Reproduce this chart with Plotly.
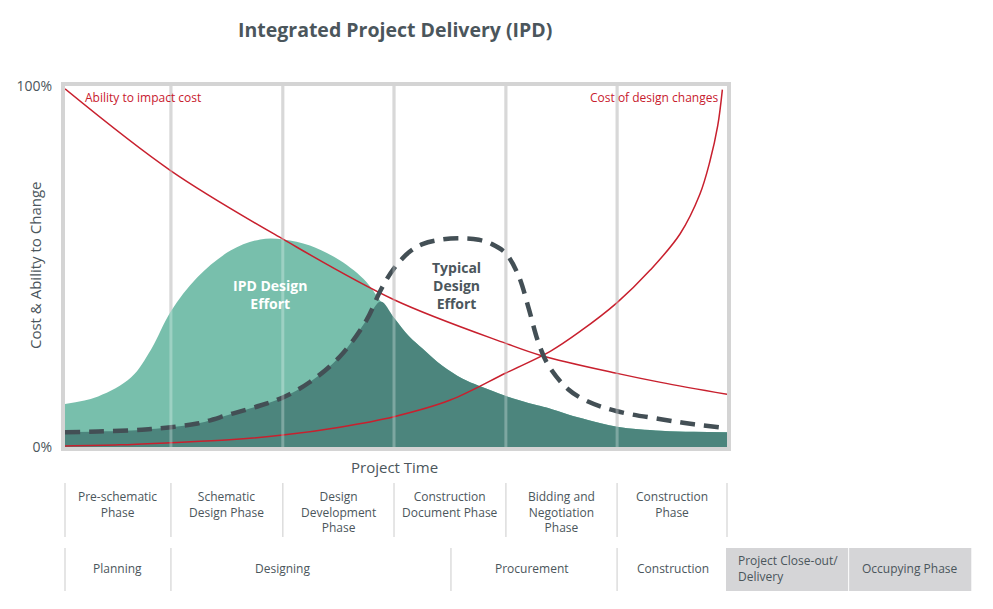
import plotly.graph_objects as go

# ---------------- data ----------------
# project time in % (0-100), effort / cost in % (0-100)
effort_x = [0, 5, 10, 13, 16, 20, 25, 29.5, 33, 37, 41.5, 45.5, 47.7, 49.7, 52, 54, 57, 60,
            62.5, 64.5, 66.6, 68.5, 70, 71.5, 73, 76, 79, 83.4, 90, 95, 100]
ipd_effort = [11.9, 14.0, 19.3, 27.0, 37.6, 47.0, 54.4, 57.5, 57.5, 55.8, 51.7, 45.8, 40.3,
              35.8, 30.6, 27.3, 22.5, 19.0, 17.0, 15.6, 14.1, 13.0, 12.2, 11.5, 10.8, 9.0,
              7.5, 5.6, 4.5, 4.2, 4.1]
typical_effort = [4.1, 4.3, 4.6, 5.0, 5.5, 6.5, 9.1, 11.5, 13.8, 18.0, 25.0, 35.0, 43.5,
                  49.5, 54.0, 56.2, 57.5, 57.8, 57.4, 56.2, 53.6, 47.5, 38.7, 29.0, 22.7,
                  16.0, 12.6, 9.9, 7.7, 6.3, 5.2]

ability_x = [0, 16, 33, 49.7, 66.6, 72, 83.4, 90, 100]
ability_to_impact = [99.2, 76.5, 57.5, 40.8, 28.7, 25.3, 20.4, 17.9, 14.6]

cost_x = [0, 8.3, 16, 24.9, 32.9, 41.5, 49.7, 58.2, 66.6, 73.3, 77.8, 83.4, 88.4, 92.9,
          95.9, 97.4, 98.6, 99.3]
cost_of_changes = [0.3, 0.6, 1.2, 2.0, 3.3, 5.5, 8.4, 13.0, 20.5, 26.5, 32.0, 40.0, 49.0,
                   59.0, 70.0, 79.0, 89.0, 99.0]

phase_bounds = [0, 16.0, 32.9, 49.7, 66.6, 83.4, 100]
phase_labels = ["Pre-schematic<br>Phase", "Schematic<br>Design Phase",
                "Design<br>Development<br>Phase", "Construction<br>Document Phase",
                "Bidding and<br>Negotiation<br>Phase", "Construction<br>Phase"]

stage_bounds = [0, 16.0, 58.3, 83.4]
stage_labels = ["Planning", "Designing", "Procurement", "Construction"]
stage_label_x = [8.0, 32.9, 70.5, 91.8]

extra_stage_labels = ["Project Close-out/<br>Delivery", "Occupying Phase"]
extra_stage_bounds = [99.85, 118.3, 118.45, 136.9]

# ---------------- style ----------------
TXT = "#4b565c"
RED = "#c8202e"
LIGHT = "#78bfac"
DARK = "#4c857d"
DASH = "#434f55"
GRID = "#c9c9c9"
FONT = "Open Sans"

# pixel helpers relative to the plot area (plot area: x 65..727, y 86..447 px)
def py(p):
    return (447 - p) / 361.0

def px(p):
    return (p - 65) / 662.0

dark_effort = [min(a, b) for a, b in zip(ipd_effort, typical_effort)]

fig = go.Figure()
fig.add_trace(go.Scatter(x=effort_x, y=ipd_effort, mode="lines", fill="tozeroy",
                         fillcolor=LIGHT, line=dict(width=0, color=LIGHT, shape="spline"),
                         hoverinfo="skip"))
fig.add_trace(go.Scatter(x=effort_x, y=dark_effort, mode="lines", fill="tozeroy",
                         fillcolor=DARK, line=dict(width=0, color=DARK, shape="spline"),
                         hoverinfo="skip"))
fig.add_trace(go.Scatter(x=ability_x, y=ability_to_impact, mode="lines",
                         line=dict(width=1.5, color=RED, shape="spline"), hoverinfo="skip"))
fig.add_trace(go.Scatter(x=cost_x, y=cost_of_changes, mode="lines",
                         line=dict(width=1.5, color=RED, shape="spline"), hoverinfo="skip"))
fig.add_trace(go.Scatter(x=effort_x, y=typical_effort, mode="lines",
                         line=dict(width=4.5, color=DASH, shape="spline", dash="15px,9px"),
                         hoverinfo="skip"))

shapes = []
for b in phase_bounds[1:-1]:
    shapes.append(dict(type="line", xref="x", yref="y", x0=b, x1=b, y0=0, y1=100,
                       line=dict(color=GRID, width=3), layer="below"))
    shapes.append(dict(type="line", xref="x", yref="y", x0=b, x1=b, y0=0, y1=100,
                       line=dict(color="rgba(255,255,255,0.28)", width=3), layer="above"))
for b in phase_bounds:
    shapes.append(dict(type="line", xref="paper", yref="paper", x0=b / 100, x1=b / 100,
                       y0=py(483), y1=py(537), line=dict(color="#dddddd", width=1.5)))
for b in stage_bounds:
    shapes.append(dict(type="line", xref="paper", yref="paper", x0=b / 100, x1=b / 100,
                       y0=py(548), y1=py(591), line=dict(color="#dddddd", width=1.5)))
for i in range(2):
    shapes.append(dict(type="rect", xref="paper", yref="paper",
                       x0=extra_stage_bounds[2 * i] / 100, x1=extra_stage_bounds[2 * i + 1] / 100,
                       y0=py(548), y1=py(591), fillcolor="#d5d5d7", line=dict(width=0)))

def ann(text, x, y, size=12, color=TXT, xa="center", ya="middle", **kw):
    d = dict(text=text, xref="paper", yref="paper", x=x, y=y, xanchor=xa, yanchor=ya,
             showarrow=False, font=dict(size=size, color=color, family=FONT))
    d.update(kw)
    return d

annotations = [
    ann("<b>Integrated Project Delivery (IPD)</b>", px(394.5), py(30), size=19.5),
    ann("Cost & Ability to Change", px(35), py(266), size=15, textangle=-90),
    ann("Project Time", px(394), py(467), size=15),
    ann("Ability to impact cost", px(83), py(97), color=RED, xa="left"),
    ann("Cost of design changes", px(720), py(97), color=RED, xa="right"),
    ann("<b>IPD Design<br>Effort</b>", px(270), py(294.5), size=14, color="white"),
    ann("<b>Typical<br>Design<br>Effort</b>", px(457), py(285.5), size=14),
]
for i, lab in enumerate(phase_labels):
    cx = (phase_bounds[i] + phase_bounds[i + 1]) / 200
    annotations.append(ann(lab, cx, py(486), ya="top"))
for lab, lx in zip(stage_labels, stage_label_x):
    annotations.append(ann(lab, lx / 100, py(568)))
annotations.append(ann(extra_stage_labels[0], px(736), py(568.5), xa="left", align="left"))
annotations.append(ann(extra_stage_labels[1],
                       (extra_stage_bounds[2] + extra_stage_bounds[3]) / 200, py(568)))

# the page adds an 8px body margin, so margins are shifted accordingly
fig.update_layout(
    width=993, height=609,
    margin=dict(l=57, r=274, t=78, b=170),
    paper_bgcolor="white", plot_bgcolor="white",
    showlegend=False, hovermode=False,
    font=dict(family=FONT, color=TXT),
    shapes=shapes, annotations=annotations,
    xaxis=dict(range=[0, 100], showgrid=False, zeroline=False, showticklabels=False,
               showline=True, linecolor="#d4d4d4", linewidth=4, mirror=True, fixedrange=True,
               automargin=False),
    yaxis=dict(range=[0, 100], showgrid=False, zeroline=False, tickvals=[0, 100],
               ticktext=["0%", "100%"], tickfont=dict(size=14, color=TXT, family=FONT),
               ticks="", showline=True, linecolor="#d4d4d4", linewidth=4, mirror=True,
               ticklabelstandoff=6, fixedrange=True, automargin=False),
)

fig.write_html("out.html")
